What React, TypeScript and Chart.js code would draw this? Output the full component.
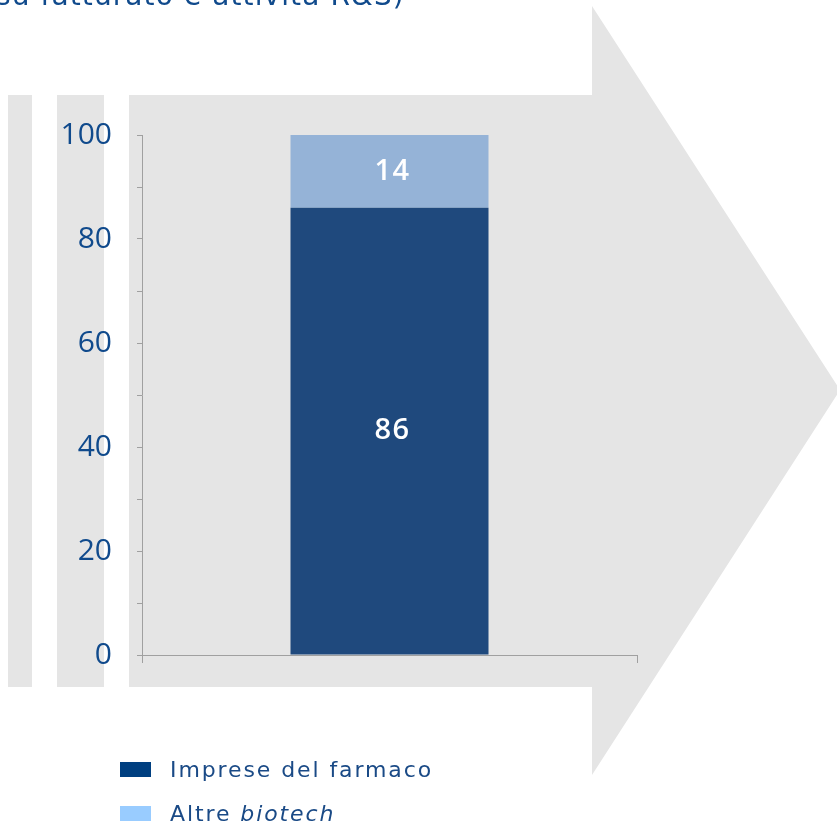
import React, { useEffect, useRef } from "react";
import { Chart, registerables } from "chart.js";

Chart.register(...registerables);

const titleText = "su fatturato e attività R&S)";
const categories = [""];
const seriesNames = ["Imprese del farmaco", "Altre biotech"];
const impreseValues = [86];
const altreValues = [14];
const yTickValues = [0, 20, 40, 60, 80, 100];

const BLUE_TEXT = "#104a8c";
const GREY_BG = "#e5e5e5";

const backgroundPlugin = {
  id: "arrowBackground",
  beforeDraw(chart: any) {
    const ctx = chart.ctx;
    ctx.save();
    ctx.fillStyle = GREY_BG;
    ctx.fillRect(8, 95, 24, 592);
    ctx.fillRect(57, 95, 47, 592);
    ctx.beginPath();
    ctx.moveTo(129, 95);
    ctx.lineTo(592, 95);
    ctx.lineTo(592, 6);
    ctx.lineTo(840, 390);
    ctx.lineTo(592, 775);
    ctx.lineTo(592, 687);
    ctx.lineTo(129, 687);
    ctx.closePath();
    ctx.fill();
    ctx.restore();
  },
};

const labelPlugin = {
  id: "barLabels",
  afterDatasetsDraw(chart: any) {
    const ctx = chart.ctx;
    ctx.save();
    ctx.fillStyle = "#ffffff";
    ctx.font = "600 29px 'Open Sans'";
    ctx.textAlign = "center";
    ctx.textBaseline = "middle";
    (ctx as any).letterSpacing = "1.5px";
    chart.data.datasets.forEach((ds: any, i: number) => {
      const meta = chart.getDatasetMeta(i);
      meta.data.forEach((bar: any, j: number) => {
        const v = ds.data[j];
        const y = (bar.y + bar.base) / 2;
        ctx.fillText(String(v), bar.x + 3, y);
      });
    });
    ctx.restore();
  },
};

export default function App() {
  const canvasRef = useRef<HTMLCanvasElement>(null);

  useEffect(() => {
    document.body.style.margin = "0";
    const chart = new Chart(canvasRef.current as HTMLCanvasElement, {
      type: "bar",
      data: {
        labels: categories,
        datasets: [
          {
            label: seriesNames[0],
            data: impreseValues,
            backgroundColor: "#1f497d",
            borderWidth: 0,
            categoryPercentage: 1,
            barPercentage: 0.4,
          },
          {
            label: seriesNames[1],
            data: altreValues,
            backgroundColor: "#95b3d7",
            borderWidth: 0,
            categoryPercentage: 1,
            barPercentage: 0.4,
          },
        ],
      },
      options: {
        animation: false,
        responsive: false,
        layout: { padding: { left: 0, top: 135, right: 200, bottom: 164 } },
        plugins: { legend: { display: false }, tooltip: { enabled: false } },
        scales: {
          x: {
            stacked: true,
            grid: {
              display: true,
              drawOnChartArea: false,
              drawTicks: true,
              tickLength: 8,
              color: "#a0a0a0",
              offset: true,
            },
            border: { display: true, color: "#a0a0a0", width: 1 },
            ticks: { display: false },
            afterFit(scale: any) {
              scale.height = 8;
            },
          },
          y: {
            stacked: true,
            min: 0,
            max: 100,
            grid: {
              display: true,
              drawOnChartArea: false,
              drawTicks: true,
              tickLength: 5,
              color: "#a0a0a0",
            },
            border: { display: true, color: "#a0a0a0", width: 1 },
            ticks: {
              stepSize: 10,
              autoSkip: false,
              padding: 25,
              color: BLUE_TEXT,
              font: { family: "'Open Sans'", size: 30 },
              callback: (v: any) => (yTickValues.includes(Number(v)) ? String(v) : ""),
            },
            afterFit(scale: any) {
              scale.width = 142;
            },
          },
        },
      },
      plugins: [backgroundPlugin, labelPlugin],
    });
    return () => chart.destroy();
  }, []);

  const legendText: React.CSSProperties = {
    position: "absolute",
    left: 170,
    fontFamily: "'DejaVu Sans', sans-serif",
    fontSize: 22,
    lineHeight: "30px",
    color: "#1a4a86",
    letterSpacing: "1.9px",
    whiteSpace: "nowrap",
  };

  return (
    <div
      style={{
        position: "absolute",
        left: 0,
        top: 0,
        width: 837,
        height: 827,
        overflow: "hidden",
        background: "#ffffff",
      }}
    >
      <canvas ref={canvasRef} width={837} height={827} style={{ position: "absolute", left: 0, top: 0 }} />
      <div
        style={{
          position: "absolute",
          left: -4,
          top: -24,
          fontFamily: "'DejaVu Sans', sans-serif",
          fontSize: 28,
          lineHeight: "40px",
          color: BLUE_TEXT,
          whiteSpace: "nowrap",
          letterSpacing: "1.1px",
        }}
      >
        {titleText}
      </div>
      <div style={{ position: "absolute", left: 120, top: 762, width: 31, height: 15, background: "#003f80" }} />
      <div style={{ ...legendText, top: 755 }}>{seriesNames[0]}</div>
      <div style={{ position: "absolute", left: 120, top: 806, width: 31, height: 15, background: "#99ccff" }} />
      <div style={{ ...legendText, top: 799 }}>
        Altre <i>biotech</i>
      </div>
    </div>
  );
}
